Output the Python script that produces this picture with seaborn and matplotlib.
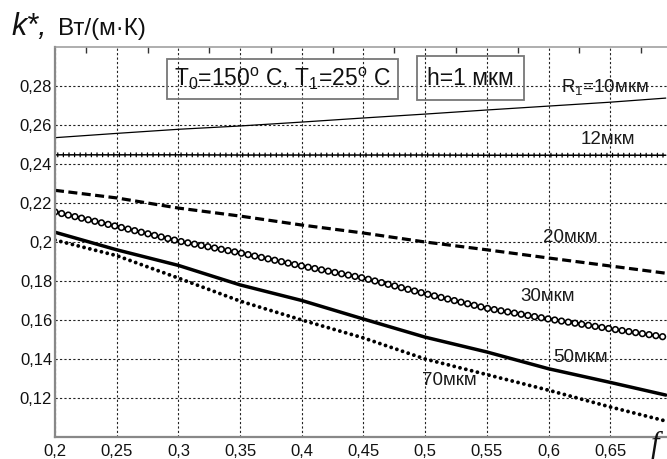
import numpy as np
import pandas as pd
import matplotlib
matplotlib.use("Agg")
import matplotlib.pyplot as plt
import matplotlib.patheffects as pe
from matplotlib.ticker import MultipleLocator, FuncFormatter
import seaborn as sns

# значения
f = [0.2, 0.25, 0.3, 0.35, 0.4, 0.45, 0.5, 0.55, 0.6, 0.65, 0.695]
k10 = [0.2535, 0.2557, 0.2578, 0.2595, 0.2615, 0.2636, 0.2656, 0.2677, 0.2697, 0.2717, 0.2738]
k12 = [0.2447, 0.2447, 0.2447, 0.2446, 0.2446, 0.2446, 0.2446, 0.2445, 0.2445, 0.2445, 0.2445]
k20 = [0.2265, 0.2226, 0.2174, 0.2133, 0.2087, 0.2046, 0.2000, 0.1960, 0.1918, 0.1877, 0.1840]
k30 = [0.2154, 0.2080, 0.2005, 0.1944, 0.1877, 0.1815, 0.1735, 0.1660, 0.1605, 0.1555, 0.1512]
k50 = [0.2050, 0.1960, 0.1880, 0.1780, 0.1700, 0.1605, 0.1512, 0.1436, 0.1350, 0.1280, 0.1215]
k70 = [0.2010, 0.1930, 0.1815, 0.1697, 0.1600, 0.1508, 0.1400, 0.1320, 0.1240, 0.1154, 0.1082]

x_ticks = [0.2, 0.25, 0.3, 0.35, 0.4, 0.45, 0.5, 0.55, 0.6, 0.65]
y_ticks = [0.12, 0.14, 0.16, 0.18, 0.2, 0.22, 0.24, 0.26, 0.28]

sns.set_theme(style="white")
plt.rcParams["font.family"] = ["Liberation Sans", "DejaVu Sans"]
plt.rcParams["mathtext.fontset"] = "custom"
plt.rcParams["mathtext.rm"] = "Liberation Sans"
plt.rcParams["mathtext.it"] = "Liberation Sans:italic"
plt.rcParams["lines.scale_dashes"] = False

fig = plt.figure(figsize=(6.67, 4.59), dpi=100)
ax = fig.add_axes([55 / 667, 22 / 459, 612 / 667, 390 / 459])

sns.lineplot(x=f, y=k10, ax=ax, color="black", lw=0.9)
sns.lineplot(x=f, y=k12, ax=ax, color="black", lw=1.1,
             path_effects=[pe.Normal(),
                           pe.TickedStroke(spacing=4, angle=90, length=0.35, linewidth=0.9),
                           pe.TickedStroke(spacing=4, angle=-90, length=0.35, linewidth=0.9)])
sns.lineplot(x=f, y=k20, ax=ax, color="black", lw=2.3, linestyle=(0, (6.5, 3.2)))
# кольца: толстые чёрные точки, поверх — белые
dot = (0, (0.01, 4.9))
sns.lineplot(x=f, y=k30, ax=ax, color="black", lw=5.3, linestyle=dot,
             dash_capstyle="round")
sns.lineplot(x=f, y=k30, ax=ax, color="white", lw=3.0, linestyle=dot,
             dash_capstyle="round")
sns.lineplot(x=f, y=k50, ax=ax, color="black", lw=2.5)
sns.lineplot(x=f, y=k70, ax=ax, color="black", lw=2.8, linestyle=(0, (0.01, 4.3)),
             dash_capstyle="round")

ax.set_xlim(0.2, 0.696)
ax.set_ylim(0.10, 0.30)
ax.set_xticks(x_ticks)
ax.set_yticks(y_ticks)
ax.xaxis.set_minor_locator(MultipleLocator(0.025))
ax.yaxis.set_minor_locator(MultipleLocator(0.01))
fmt = FuncFormatter(lambda v, p: f"{v:.2f}".rstrip("0").replace(".", ","))
ax.xaxis.set_major_formatter(fmt)
ax.yaxis.set_major_formatter(fmt)
ax.tick_params(which="both", direction="in", top=True, right=False,
               labelsize=12, labelcolor="#111111")
ax.tick_params(axis="y", pad=2)
ax.tick_params(axis="x", pad=5)
ax.tick_params(which="major", length=0)
ax.tick_params(which="minor", length=4, width=1, color="#333333")
ax.grid(True, which="major", color="#222222", lw=0.8, linestyle=(0, (1.6, 1.6)))

for side in ["left", "bottom"]:
    ax.spines[side].set_color("#888888")
    ax.spines[side].set_linewidth(1.6)
ax.spines["top"].set_color("#999999")
ax.spines["top"].set_linewidth(1.1)
ax.spines["right"].set_visible(False)
ax.set_xlabel("")
ax.set_ylabel("")

# подписи кривых
lab = dict(fontsize=13.5, color="#1a1a1a", va="center", ha="left")
ax.text(0.610, 0.2795, r"R$_1$=10мкм", **lab)
ax.text(0.6257, 0.2528, "12мкм", **lab)
ax.text(0.5957, 0.2021, "20мкм", **lab)
ax.text(0.577, 0.1723, "30мкм", **lab)
ax.text(0.6038, 0.141, "50мкм", **lab)
ax.text(0.4976, 0.1292, "70мкм", **lab)

box = dict(boxstyle="square,pad=0.3", fc="none", ec="#777777", lw=1.3)
ax.text(0.3717, 0.919, r"T$_0$=150$^{\rm o}$ C, T$_1$=25$^{\rm o}$ C",
        transform=ax.transAxes, fontsize=16.5, color="#111111",
        ha="center", va="center", bbox=box)
box2 = dict(boxstyle="square,pad=0.45", fc="none", ec="#777777", lw=1.3)
ax.text(0.679, 0.9205, "h=1 мкм", transform=ax.transAxes, fontsize=16.5,
        color="#111111", ha="center", va="center", bbox=box2)

# подписи осей
fig.text(12 / 667, 1 - 35 / 459, "k*,", fontsize=22, style="italic",
         color="#111111", va="baseline", ha="left")
fig.text(58 / 667, 1 - 35 / 459, "Вт/(м·К)", fontsize=17.5,
         color="#111111", va="baseline", ha="left")
fig.text(655 / 667, 14 / 459, "f", fontsize=22, style="italic",
         family="Liberation Serif", color="#111111", va="center", ha="center")

fig.savefig("out.png", dpi=100)
